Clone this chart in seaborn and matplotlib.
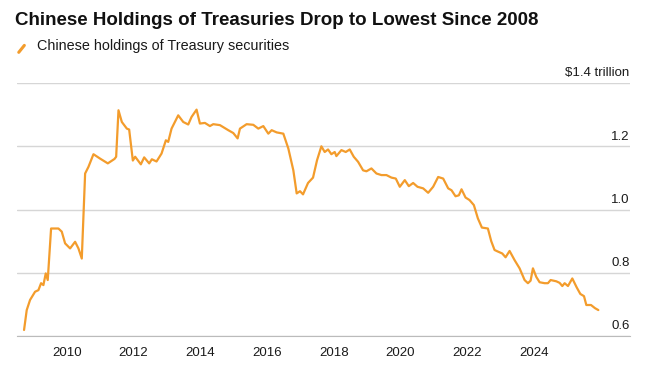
import matplotlib
matplotlib.use("Agg")
import matplotlib.pyplot as plt
from matplotlib.lines import Line2D
from matplotlib.ticker import MultipleLocator
import seaborn as sns
import pandas as pd

# dates (decimal years) and holdings ($ trillion)
dates = [
    2008.72, 2008.80, 2008.90, 2009.05, 2009.15, 2009.23, 2009.30, 2009.37, 2009.43,
    2009.53, 2009.75, 2009.85, 2009.95, 2010.10, 2010.25, 2010.35, 2010.45,
    2010.55, 2010.65, 2010.80, 2011.00, 2011.23, 2011.43, 2011.48, 2011.55, 2011.65,
    2011.80, 2011.87, 2011.98, 2012.05, 2012.22, 2012.32, 2012.47, 2012.55, 2012.69,
    2012.84, 2012.97, 2013.04, 2013.14, 2013.34, 2013.49, 2013.64, 2013.74, 2013.89,
    2013.99, 2014.14, 2014.29, 2014.39, 2014.59, 2014.84, 2014.99, 2015.12, 2015.19,
    2015.39, 2015.59, 2015.74, 2015.89, 2016.04, 2016.14, 2016.29, 2016.49, 2016.64,
    2016.79, 2016.89, 2016.99, 2017.08, 2017.23, 2017.38, 2017.50, 2017.63, 2017.73,
    2017.83, 2017.93, 2018.03, 2018.08, 2018.23, 2018.36, 2018.48, 2018.60, 2018.73,
    2018.88, 2018.98, 2019.13, 2019.28, 2019.43, 2019.58, 2019.73, 2019.86, 2019.98,
    2020.13, 2020.25, 2020.38, 2020.51, 2020.68, 2020.83, 2020.98, 2021.13, 2021.28,
    2021.43, 2021.53, 2021.65, 2021.75, 2021.83, 2021.95, 2022.07, 2022.20, 2022.32,
    2022.44, 2022.62, 2022.72, 2022.82, 2022.90, 2023.05, 2023.15, 2023.27, 2023.42,
    2023.57, 2023.72, 2023.82, 2023.90, 2023.97, 2024.07, 2024.17, 2024.32, 2024.42,
    2024.50, 2024.67, 2024.77, 2024.85, 2024.92, 2025.02, 2025.15, 2025.28, 2025.39,
    2025.50, 2025.57, 2025.71, 2025.83, 2025.93,
]
holdings = [
    0.619, 0.682, 0.714, 0.740, 0.745, 0.767, 0.761, 0.798, 0.777,
    0.940, 0.940, 0.930, 0.893, 0.877, 0.898, 0.877, 0.845,
    1.114, 1.135, 1.175, 1.161, 1.146, 1.160, 1.167, 1.314, 1.277,
    1.256, 1.253, 1.155, 1.167, 1.143, 1.165, 1.146, 1.159, 1.152,
    1.177, 1.219, 1.214, 1.256, 1.298, 1.277, 1.269, 1.293, 1.316,
    1.272, 1.274, 1.264, 1.270, 1.267, 1.251, 1.242, 1.225, 1.256,
    1.270, 1.268, 1.256, 1.264, 1.240, 1.251, 1.244, 1.240, 1.193,
    1.124, 1.051, 1.058, 1.048, 1.084, 1.101, 1.156, 1.200, 1.182,
    1.190, 1.175, 1.182, 1.169, 1.188, 1.182, 1.190, 1.167, 1.151,
    1.124, 1.121, 1.130, 1.114, 1.109, 1.109, 1.101, 1.098, 1.072,
    1.093, 1.074, 1.084, 1.072, 1.067, 1.053, 1.072, 1.103, 1.098,
    1.067, 1.061, 1.042, 1.045, 1.064, 1.038, 1.030, 1.014, 0.972,
    0.943, 0.940, 0.900, 0.872, 0.868, 0.861, 0.849, 0.869, 0.840,
    0.814, 0.777, 0.767, 0.775, 0.814, 0.787, 0.770, 0.767, 0.767,
    0.777, 0.773, 0.768, 0.758, 0.767, 0.758, 0.782, 0.754, 0.733,
    0.726, 0.698, 0.698, 0.688, 0.682,
]
y_ticks = [0.6, 0.8, 1.0, 1.2, 1.4]
y_labels = ["0.6", "0.8", "1.0", "1.2", "$1.4 trillion"]
x_ticks = [2010, 2012, 2014, 2016, 2018, 2020, 2022, 2024]

title = "Chinese Holdings of Treasuries Drop to Lowest Since 2008"
series_name = "Chinese holdings of Treasury securities"
line_color = "#f39c2c"

df = pd.DataFrame({"date": dates, "holdings": holdings})

sns.set_style("white")
plt.rcParams["font.family"] = ["Liberation Sans", "DejaVu Sans"]

fig = plt.figure(figsize=(6.58, 3.66), dpi=100)
ax = fig.add_axes([0.0254, 0.082, 0.957 - 0.0254, 0.773 - 0.082])

sns.lineplot(data=df, x="date", y="holdings", color=line_color, linewidth=1.6, ax=ax)

ax.set_xlim(2008.5, 2026.87)
ax.set_ylim(0.6, 1.4)
ax.set_xlabel("")
ax.set_ylabel("")

# horizontal grid, labels sit above the lines on the right
ax.set_yticks(y_ticks)
ax.set_yticklabels([])
ax.tick_params(axis="y", length=0)
for v in y_ticks:
    ax.axhline(v, color="#d6d6d6", linewidth=1.0, zorder=0)
for v, lab in zip(y_ticks, y_labels):
    ax.text(1.0, v + 0.012, lab, transform=ax.get_yaxis_transform(),
            ha="right", va="bottom", fontsize=9.5, color="#1a1a1a")

ax.set_xticks(x_ticks)
ax.set_xticklabels([str(x) for x in x_ticks], fontsize=9.5, color="#1a1a1a")
ax.xaxis.set_minor_locator(MultipleLocator(1))
ax.tick_params(axis="x", which="major", length=4, width=0.8, color="#333333", pad=4)
ax.tick_params(axis="x", which="minor", length=4, width=0.8, color="#bbbbbb")

sns.despine(ax=ax, left=True, right=True, top=True)
ax.spines["bottom"].set_color("#bbbbbb")
ax.spines["bottom"].set_linewidth(0.8)

fig.text(0.023, 0.944, title, fontsize=13.5, fontweight="bold", color="#111111",
         ha="left", va="center")
fig.lines.append(Line2D([0.0285, 0.037], [0.857, 0.876], transform=fig.transFigure,
                        color=line_color, linewidth=2.2, solid_capstyle="round"))
fig.text(0.0565, 0.873, series_name, fontsize=10.4, color="#1a1a1a", ha="left", va="center")

fig.savefig("out.png", dpi=100, facecolor="white")
